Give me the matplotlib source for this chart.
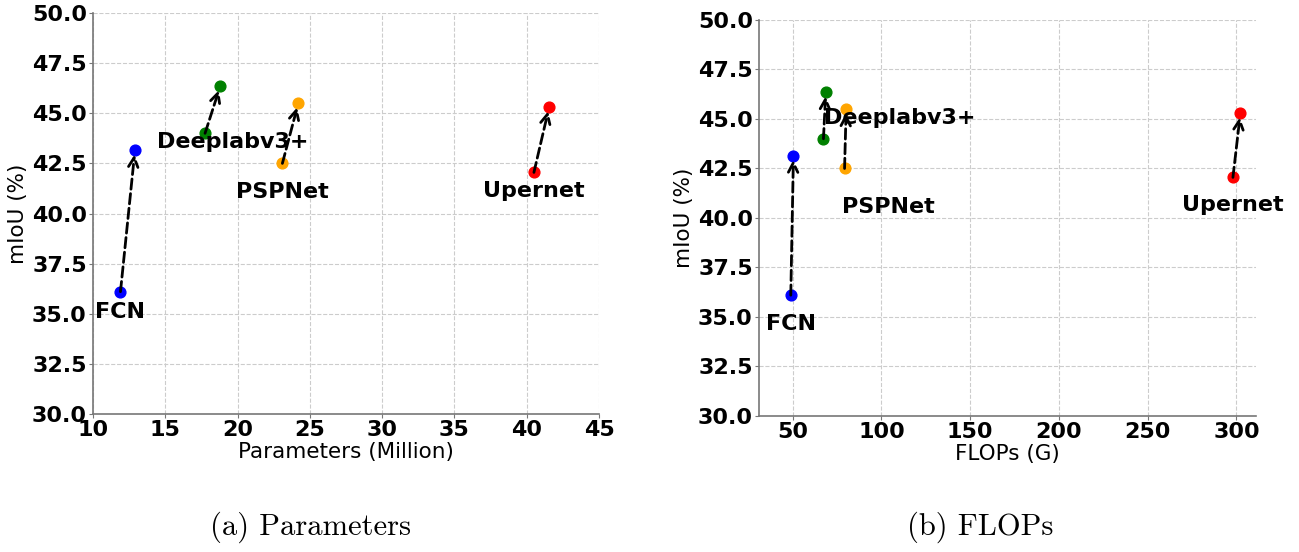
import matplotlib
matplotlib.use("Agg")
import matplotlib.pyplot as plt

# --- Datos ---
models = ['FCN', 'Deeplabv3+', 'PSPNet', 'Upernet']
colors = ['blue', 'green', 'orange', 'red']

# (antes, despues) para cada modelo
params_before = [11.9, 17.75, 23.1, 40.5]
params_after = [12.9, 18.8, 24.2, 41.55]
flops_before = [48.9, 67.3, 79.2, 298.0]
flops_after = [50.4, 68.6, 80.1, 302.2]
miou_before = [36.1, 44.0, 42.5, 42.05]
miou_after = [43.15, 46.35, 45.5, 45.3]

# desplazamiento de las etiquetas (pixeles) respecto al punto inicial
label_offsets_a = [(0, -20), (28, -9), (0, -29), (0, -19)]
label_offsets_b = [(0, -29), (76, 21), (44, -39), (0, -28)]


def draw_panel(ax, xb, xa, offsets, xlabel):
    for i, name in enumerate(models):
        ax.scatter([xb[i], xa[i]], [miou_before[i], miou_after[i]],
                   color=colors[i], s=60, zorder=3)
        ax.annotate('', xy=(xa[i], miou_after[i]), xytext=(xb[i], miou_before[i]),
                    arrowprops=dict(arrowstyle='->', linestyle='--', color='black',
                                    lw=2, shrinkA=0, shrinkB=3, mutation_scale=17),
                    zorder=4)
        ax.annotate(name, xy=(xb[i], miou_before[i]), xytext=offsets[i],
                    textcoords='offset pixels', ha='center', va='center',
                    fontsize=16, fontweight='bold', zorder=5)
    ax.set_ylim(30, 50)
    ax.set_yticks([30, 32.5, 35, 37.5, 40, 42.5, 45, 47.5, 50])
    ax.set_yticklabels([f'{v:.1f}' for v in ax.get_yticks()])
    ax.set_xlabel(xlabel, fontsize=15.5, labelpad=1)
    ax.set_ylabel('mIoU (%)', fontsize=15.5, labelpad=3)
    ax.grid(True, linestyle='--', color='#cccccc', linewidth=0.8)
    ax.set_axisbelow(True)
    for s in ['top', 'right']:
        ax.spines[s].set_visible(False)
    for s in ['left', 'bottom']:
        ax.spines[s].set_color('#777777')
        ax.spines[s].set_linewidth(1.2)
    ax.tick_params(axis='both', labelsize=16, length=3, pad=1.5, color='#777777')
    for lab in ax.get_xticklabels() + ax.get_yticklabels():
        lab.set_fontweight('bold')


fig = plt.figure(figsize=(12.99, 5.52), dpi=100)
ax1 = fig.add_axes([0.0716, 0.25, 0.3895, 0.7264])
ax2 = fig.add_axes([0.5843, 0.2464, 0.3826, 0.7174])

draw_panel(ax1, params_before, params_after, label_offsets_a, 'Parameters (Million)')
ax1.set_xlim(10, 45)
ax1.set_xticks([10, 15, 20, 25, 30, 35, 40, 45])
for lab in ax1.get_xticklabels():
    lab.set_fontweight('bold')

draw_panel(ax2, flops_before, flops_after, label_offsets_b, 'FLOPs (G)')
ax2.set_xlim(31, 311)
ax2.set_xticks([50, 100, 150, 200, 250, 300])
for lab in ax2.get_xticklabels():
    lab.set_fontweight('bold')

fig.text(0.2394, 0.045, '(a) Parameters', family='cmr10', fontsize=22, ha='center', va='center')
fig.text(0.7544, 0.045, '(b) FLOPs', family='cmr10', fontsize=22, ha='center', va='center')

plt.savefig('out.png', dpi=100)
